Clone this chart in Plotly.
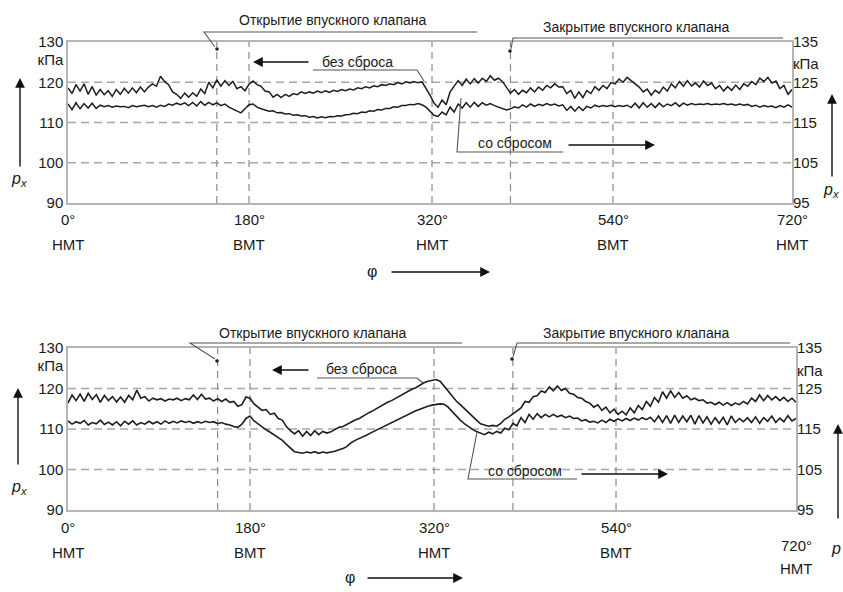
import plotly.graph_objects as go

W, H = 843, 592
OFF = 0  # page margin is removed by the post script below
FONT = "Liberation Sans Narrow, Arial Narrow, Liberation Sans, Arial, sans-serif"

# ---------------- data ----------------
phi = list(range(0, 721, 4))  # crank angle, degrees

top_no_reset = [
    118.6, 117.2, 119.4, 117.8, 119.6, 117.0, 118.9, 116.8, 118.2, 116.9,
    117.9, 116.5, 118.2, 117.0, 118.5, 117.3, 118.6, 117.4, 118.8, 117.6,
    118.8, 119.6, 119.0, 121.5, 120.2, 119.4, 117.6, 117.0, 116.0, 117.3,
    116.3, 117.4, 116.5, 118.3, 117.2, 120.0, 118.6, 120.6, 119.0, 120.4,
    119.2, 120.2, 118.4, 118.9, 117.9, 119.5, 120.3, 119.4, 119.0, 117.8,
    117.6, 116.3, 117.0, 116.2, 117.0, 116.5, 117.2, 116.9, 117.6, 117.2,
    117.6, 117.3, 117.8, 117.4, 117.9, 117.5, 118.0, 117.7, 118.2, 117.9,
    118.3, 118.1, 118.6, 118.4, 118.9, 118.6, 119.1, 118.9, 119.4, 119.2,
    119.6, 119.4, 119.9, 119.6, 120.1, 119.8, 120.2, 119.9, 120.1, 118.6,
    116.8, 114.8, 113.8, 115.6, 114.4, 117.6, 118.9, 120.4, 119.2, 120.8,
    119.6, 120.9, 119.8, 121.0, 120.2, 121.6, 120.5, 121.0, 120.2, 118.6,
    117.3, 118.2, 117.0, 118.0, 117.4, 118.6, 117.6, 118.8, 118.0, 119.2,
    118.6, 119.6, 118.8, 118.9, 117.2, 118.0, 116.0, 117.6, 116.2, 117.9,
    117.2, 118.9, 118.0, 119.2, 118.4, 119.9, 119.6, 120.8, 120.0, 121.2,
    120.5, 119.6, 118.8, 117.6, 118.3, 116.8, 118.0, 117.3, 118.8, 117.8,
    119.6, 118.6, 120.2, 119.0, 120.4, 119.1, 119.8, 118.8, 120.3, 119.2,
    119.8, 118.4, 119.2, 117.8, 118.9, 118.0, 119.3, 118.2, 119.6, 119.0,
    120.2, 119.4, 121.0, 120.2, 121.2, 119.8, 120.3, 118.4, 119.2, 117.0,
    118.2,
]

top_with_reset = [
    114.6, 113.2, 114.9, 113.4, 114.7, 113.6, 114.8, 113.5, 114.3, 113.9,
    114.2, 113.8, 114.1, 113.9, 114.0, 113.7, 114.2, 113.9, 114.1, 114.3,
    113.9, 114.2, 113.8, 114.3, 114.0, 114.6, 114.3, 114.8, 114.4, 114.9,
    114.2, 115.0, 114.1, 115.2, 114.3, 115.0, 114.4, 114.9, 114.2, 114.6,
    113.8, 113.4, 112.9, 112.4, 113.4, 114.4, 114.6, 113.8, 113.4, 113.0,
    112.8, 112.9, 112.4, 112.5, 112.1, 112.2, 111.8, 111.9, 111.6, 111.7,
    111.3, 111.5, 111.1, 111.4, 111.2, 111.5, 111.4, 111.7, 111.6, 111.9,
    112.0, 112.3, 112.2, 112.6, 112.5, 112.9, 112.8, 113.2, 113.1, 113.5,
    113.5, 113.9, 113.8, 114.2, 114.2, 114.5, 114.4, 114.7, 114.4, 113.8,
    112.7, 111.8, 111.5, 112.6, 111.9, 113.8, 112.6, 114.6, 113.6, 114.9,
    113.8, 115.0, 114.0, 114.9, 114.3, 114.7, 114.2, 113.8, 113.5, 113.1,
    113.4, 113.9, 113.6, 114.4, 113.8, 114.6, 114.0, 114.5, 114.2, 114.7,
    114.3, 114.6, 114.1, 114.4, 113.0, 114.0, 112.8, 113.9, 113.0, 114.0,
    113.6, 114.3, 113.9, 114.2, 114.0, 114.3, 113.9, 114.2, 114.0, 114.3,
    113.7, 114.8, 113.6, 114.9, 113.8, 114.7, 113.7, 114.8, 113.9, 114.6,
    114.2, 114.9, 114.0, 114.8, 114.3, 114.7, 114.4, 114.6, 114.5, 114.7,
    114.4, 114.6, 114.5, 114.7, 114.4, 114.6, 114.3, 114.6, 114.3, 114.5,
    114.0, 114.3, 113.8, 114.2, 113.9, 114.1, 113.7, 114.2, 113.8, 114.4,
    113.8,
]

bot_no_reset = [
    116.4, 118.4, 117.0, 118.6, 116.8, 118.8, 117.3, 118.5, 116.6, 118.3,
    117.0, 118.0, 116.7, 117.9, 116.6, 118.3, 117.2, 119.6, 117.6, 118.0,
    116.9, 117.6, 117.2, 117.5, 116.9, 117.4, 117.2, 117.6, 117.0, 117.5,
    117.2, 118.4, 117.3, 118.6, 117.4, 117.6, 116.9, 117.5, 116.8, 117.4,
    116.6, 116.8, 115.6, 116.0, 117.9, 117.6, 116.2, 115.4, 114.6, 114.8,
    113.6, 113.9, 112.6, 112.2, 110.6, 109.6, 108.8, 109.6, 108.2, 109.4,
    108.4, 109.6, 108.6, 109.4, 109.0, 109.3, 109.8, 110.4, 110.6, 111.2,
    111.6, 112.2, 112.6, 113.3, 113.8, 114.3, 114.9, 115.4, 116.0, 116.6,
    117.0, 117.6, 118.1, 118.7, 119.2, 119.8, 120.2, 120.9, 121.4, 121.8,
    122.0, 122.2, 121.8, 120.6, 119.2, 118.0, 116.9, 116.0, 115.0, 114.0,
    113.0, 112.2, 111.3, 110.9, 110.7, 110.9, 110.7, 111.4, 112.4, 113.0,
    113.8, 114.5, 115.2, 116.8, 116.6, 118.0, 118.2, 119.4, 119.0, 120.4,
    119.4, 120.6, 119.5, 120.0, 118.8, 118.6, 117.8, 117.6, 116.8, 116.4,
    115.4, 116.0, 114.6, 115.4, 114.0, 114.9, 113.6, 114.4, 113.5, 115.2,
    114.0, 115.8, 114.8, 116.8, 115.6, 117.8, 116.6, 119.2, 117.6, 119.4,
    117.8, 119.0, 117.6, 118.2, 117.2, 117.6, 117.0, 117.2, 116.4, 116.6,
    116.0, 116.6, 115.9, 116.5, 115.8, 116.4, 116.0, 116.8, 116.2, 117.6,
    116.8, 118.4, 117.0, 118.3, 117.2, 118.0, 117.0, 117.8, 116.8, 117.6,
    116.6,
]

bot_with_reset = [
    112.0, 111.2, 111.8, 111.4, 112.1, 111.0, 111.6, 111.3, 112.2, 111.1,
    111.7, 111.0, 111.8, 110.8, 111.9, 111.2, 112.0, 111.0, 111.6, 111.2,
    111.9, 111.3, 111.8, 111.2, 112.0, 111.4, 111.9, 111.5, 112.0, 111.6,
    111.9, 111.4, 111.8, 111.5, 111.9, 111.6, 111.8, 111.3, 111.6, 111.2,
    111.0, 110.6, 110.4, 111.2, 112.6, 113.2, 112.0, 111.2, 110.6, 109.8,
    109.2, 108.6, 107.8, 107.2, 106.2, 105.2, 104.4, 104.2, 104.0, 104.3,
    104.1, 104.4, 104.0, 104.3, 104.1, 104.3, 104.5, 104.9, 105.2, 105.7,
    106.6, 107.2, 107.6, 108.1, 108.6, 109.1, 109.6, 110.1, 110.6, 111.1,
    111.6, 112.1, 112.6, 113.2, 113.6, 114.1, 114.5, 114.9, 115.3, 115.6,
    115.9, 116.1, 116.2, 116.1, 115.4, 114.3, 113.2, 112.2, 111.3, 110.5,
    109.9, 109.4, 109.0, 108.6, 109.2, 108.8, 109.4, 109.0, 110.2, 109.8,
    111.4, 110.8, 112.8, 111.6, 113.6, 112.4, 113.8, 112.8, 113.6, 113.0,
    113.6, 113.0, 113.4, 112.8, 113.2, 112.6, 112.7, 112.0, 112.3, 111.7,
    111.9, 111.5, 112.2, 111.6, 112.4, 111.9, 112.5, 112.0, 112.6, 112.1,
    112.7, 112.2, 112.8, 112.3, 112.9, 111.8, 113.2, 111.6, 113.3, 111.4,
    113.4, 111.6, 113.2, 111.8, 113.4, 111.2, 113.3, 111.5, 113.0, 111.2,
    112.8, 111.4, 112.9, 111.0, 113.2, 111.6, 112.6, 111.8, 112.8, 111.6,
    113.0, 111.4, 112.8, 111.9, 113.2, 111.6, 112.7, 111.8, 113.3, 112.0,
    112.6,
]

marker_angles = [148, 180, 362, 440, 542]          # vertical dashed lines
tick_angles = [0, 180, 362, 542, 720]
tick_deg_text = ["0°", "180°", "320°", "540°", "720°"]
tick_pos_text = ["НМТ", "ВМТ", "НМТ", "ВМТ", "НМТ"]
left_vals = [90, 100, 110, 120, 125.5, 130]
left_text = ["90", "100", "110", "120", "кПа", "130"]
right_vals = [95, 105, 115, 125, 129.5, 135]
right_text = ["95", "105", "115", "125", "кПа", "135"]
grid_vals = [100, 110, 120]

# ---------------- helpers (screen pixel -> paper fraction) ----------------
def px(x):
    return (x - OFF) / W

def py(y):
    return 1 - (y - OFF) / H

LINE_C = "#1e1e1e"
BORDER_C = "#b5b5b5"
GRID_C = "#a8a8a8"
TXT_C = "#1a1a1a"

fig = go.Figure()

panels = [
    dict(xa="x", ya="y", ya2="y2", up=top_no_reset, lo=top_with_reset, w=1.5),
    dict(xa="x2", ya="y3", ya2="y4", up=bot_no_reset, lo=bot_with_reset, w=1.6),
]
for p in panels:
    for ser in (p["up"], p["lo"]):
        fig.add_trace(go.Scatter(x=phi, y=ser, mode="lines", xaxis=p["xa"], yaxis=p["ya"],
                                 line=dict(color=LINE_C, width=p["w"]), hoverinfo="skip",
                                 showlegend=False))
    # invisible helper so the right-hand axis is drawn
    fig.add_trace(go.Scatter(x=[phi[0], phi[-1]], y=[right_vals[0], right_vals[-1]], mode="lines",
                             xaxis=p["xa"], yaxis=p["ya2"], line=dict(width=0), opacity=0,
                             hoverinfo="skip", showlegend=False))

axis_common = dict(showgrid=False, zeroline=False, showline=True, mirror=True,
                   linecolor=BORDER_C, linewidth=1.5, ticks="", automargin=False)
right_common = dict(showgrid=False, zeroline=False, showline=False, ticks="", automargin=False)
tickfont = dict(family=FONT, size=15, color=TXT_C)

top_dom = [py(203), py(42)]
bot_dom = [py(510), py(348)]

fig.update_layout(
    width=W, height=H, margin=dict(l=0, r=0, t=0, b=0, autoexpand=False),
    paper_bgcolor="white", plot_bgcolor="white", showlegend=False,
    font=dict(family=FONT, color=TXT_C),
    xaxis=dict(domain=[px(68), px(792)], range=[0, 720], anchor="y", showticklabels=False, **axis_common),
    yaxis=dict(domain=top_dom, range=[90, 130], anchor="x", tickvals=left_vals, ticktext=left_text,
               tickfont=tickfont, **axis_common),
    yaxis2=dict(overlaying="y", side="right", anchor="x", range=[95, 135], tickvals=right_vals,
                ticktext=right_text, tickfont=tickfont, **right_common),
    xaxis2=dict(domain=[px(68), px(796)], range=[0, 720], anchor="y3", showticklabels=False, **axis_common),
    yaxis3=dict(domain=bot_dom, range=[90, 130], anchor="x2", tickvals=left_vals, ticktext=left_text,
                tickfont=tickfont, **axis_common),
    yaxis4=dict(overlaying="y3", side="right", anchor="x2", range=[95, 135], tickvals=right_vals,
                ticktext=right_text, tickfont=tickfont, **right_common),
)

shapes = []
for xa, ya in (("x", "y"), ("x2", "y3")):
    for g in grid_vals:
        shapes.append(dict(type="line", xref=f"{xa} domain", yref=ya, x0=0, x1=1, y0=g, y1=g,
                           line=dict(color=GRID_C, width=1.4, dash="8px,5px"), layer="below"))
    for a in marker_angles:
        shapes.append(dict(type="line", xref=xa, yref=f"{ya} domain", x0=a, x1=a, y0=0, y1=1,
                           line=dict(color="#8a8a8a", width=1.2, dash="7px,5px"), layer="below"))

def poly(points, color="#555", width=1.1):
    d = "M " + " L ".join(f"{px(a):.5f},{py(b):.5f}" for a, b in points)
    return dict(type="path", xref="paper", yref="paper", path=d, line=dict(color=color, width=width))

def dot(x, y, r=1.8):
    return dict(type="circle", xref="paper", yref="paper", x0=px(x - r), x1=px(x + r),
                y0=py(y + r), y1=py(y - r), fillcolor="#222", line=dict(width=0))

# callout leader lines (top panel)
shapes += [
    poly([(477, 32), (204, 32), (215, 47)]),
    dot(217, 49),
    poly([(783, 38), (513, 38), (511, 49)]),
    dot(510, 51),
    poly([(313, 70), (417, 70), (424, 81)]),
    poly([(563, 152), (457, 152), (461, 98)]),
]
# callout leader lines (bottom panel)
shapes += [
    poly([(462, 343), (190, 343), (215, 359)]),
    dot(217, 361),
    poly([(790, 343), (517, 343), (513, 357)]),
    dot(512, 359),
    poly([(317, 378), (417, 378), (423, 383)]),
    poly([(577, 479), (468, 479), (477, 432)]),
]
fig.update_layout(shapes=shapes)

ann = []
def text(x, y, s, size=15, xanchor="center", xref="paper"):
    ann.append(dict(x=x if xref != "paper" else px(x), y=py(y), xref=xref, yref="paper", text=s,
                    showarrow=False, xanchor=xanchor, yanchor="middle",
                    font=dict(family=FONT, size=size, color=TXT_C)))

def arrow(hx, hy, tx, ty, width=1.4, size=1.4):
    ann.append(dict(x=px(hx), y=py(hy), xref="paper", yref="paper", text="", showarrow=True,
                    ax=tx - hx, ay=ty - hy, axref="pixel", ayref="pixel",
                    arrowhead=2, arrowsize=size, arrowwidth=width, arrowcolor="#111"))

# x tick labels (both panels)
for xa, ydeg, ypos in (("x", 219, 245), ("x2", 527, 552)):
    for i, (a, t1, t2) in enumerate(zip(tick_angles, tick_deg_text, tick_pos_text)):
        yd, yp = ydeg, ypos
        if xa == "x2" and i == len(tick_angles) - 1:
            yd, yp = 545, 568
        text(a, yd, t1, size=15, xref=xa)
        text(a, yp, t2, size=15, xref=xa)

# callout texts
text(332, 20, "Открытие впускного клапана", size=14)
text(636, 27, "Закрытие впускного клапана", size=14)
text(357, 62, "без сброса", size=14)
text(515, 143, "со сбросом", size=14)
text(312, 333, "Открытие впускного клапана", size=14)
text(636, 333, "Закрытие впускного клапана", size=14)
text(361, 369, "без сброса", size=14)
text(525, 471, "со сбросом", size=14)

# direction arrows
arrow(253, 62, 310, 62)
arrow(655, 145, 567, 145)
arrow(272, 370, 310, 370)
arrow(668, 474, 580, 474)

# phi axis titles
text(372, 271, "φ", size=16)
arrow(490, 272, 390, 272)
text(350, 577, "φ", size=16)
arrow(463, 578, 366, 578)

# p_x axis titles
arrow(20, 78, 20, 168)
text(19, 179, "<i>p<sub>x</sub></i>", size=16)
arrow(832, 94, 832, 178)
text(831, 190, "<i>p<sub>x</sub></i>", size=16)
arrow(18, 388, 18, 466)
text(19, 487, "<i>p<sub>x</sub></i>", size=16)
arrow(838, 424, 838, 520)
text(836, 548, "<i>p</i>", size=16)

fig.update_layout(annotations=ann)

fig.write_html(
    "out.html",
    config={"displayModeBar": False},
    post_script="document.body.style.margin='0';document.body.style.overflow='hidden';",
)
